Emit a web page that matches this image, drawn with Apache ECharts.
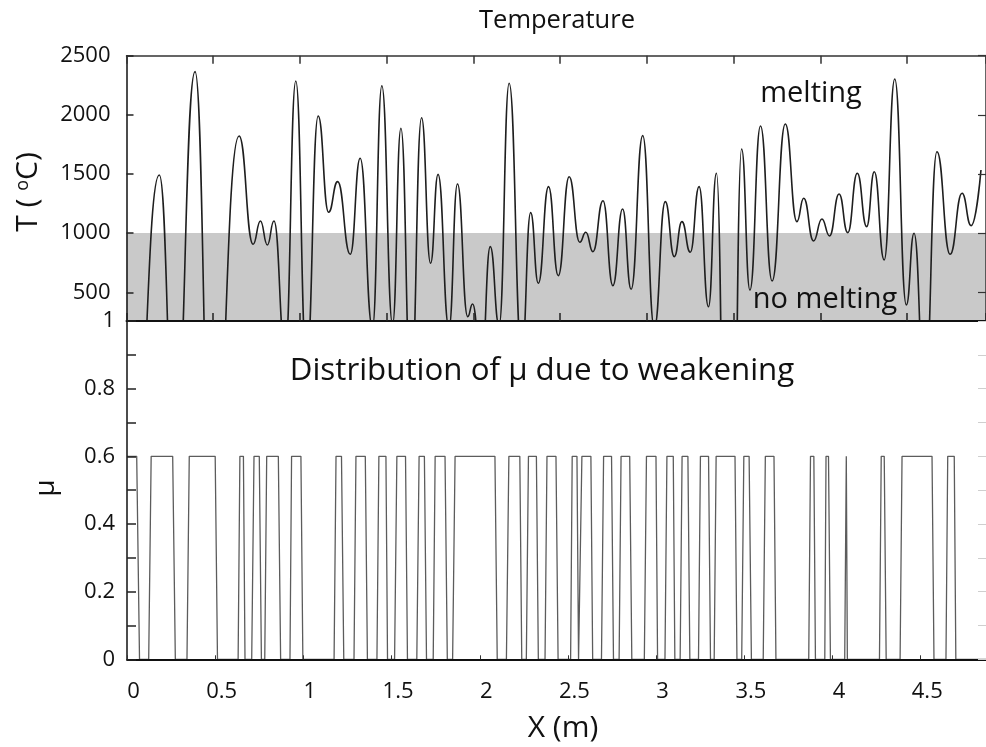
<!DOCTYPE html>
<html>
<head>
<meta charset="utf-8">
<script src="https://cdn.jsdelivr.net/npm/echarts@6/dist/echarts.min.js"></script>
<style>
html,body{margin:0;padding:0;background:#fff;}
#chart{width:986px;height:747px;}
</style>
</head>
<body>
<div id="chart"></div>
<script>
// Temperature curve (x in m, T in °C): peaks, troughs and estimated hidden minima (below the clipped floor)
const tempX = [0,0.045,0.189,0.280,0.395,0.493,0.649,0.730,0.772,0.812,0.850,0.915,0.976,1.038,1.105,1.165,1.217,1.290,1.347,1.418,1.472,1.534,1.582,1.640,1.701,1.753,1.796,1.859,1.908,1.967,1.995,2.046,2.097,2.148,2.206,2.279,2.330,2.374,2.433,2.489,2.552,2.613,2.648,2.689,2.747,2.804,2.860,2.909,2.976,3.043,3.106,3.158,3.202,3.250,3.301,3.355,3.401,3.475,3.546,3.594,3.655,3.722,3.798,3.865,3.904,3.961,4.009,4.053,4.108,4.158,4.213,4.267,4.311,4.368,4.429,4.496,4.540,4.602,4.672,4.748,4.817,4.869,4.926];
const tempY = [-1050,-1050,1492,-800,2365,-1400,1821,906,1102,900,1102,0,2286,-100,1990,1176,1435,821,1633,200,2246,230,1886,-350,1976,745,1497,200,1415,294,401,-150,886,220,2267,-30,1173,576,1393,640,1477,923,1007,843,1274,556,1204,525,1824,200,1266,801,1097,838,1393,378,1506,-4500,1711,519,1906,596,1923,1097,1295,934,1120,976,1331,1004,1506,1055,1519,773,2303,393,999,-380,1688,821,1337,1063,1534];

// Friction coefficient mu distribution
const muX = [0,0.055,0.071,0.123,0.137,0.259,0.274,0.340,0.353,0.500,0.513,0.630,0.640,0.660,0.669,0.707,0.720,0.750,0.762,0.781,0.792,0.858,0.871,0.924,0.933,0.986,0.997,1.174,1.185,1.216,1.229,1.287,1.298,1.351,1.363,1.417,1.428,1.468,1.477,1.517,1.530,1.579,1.590,1.643,1.656,1.686,1.698,1.736,1.747,1.803,1.816,1.846,1.860,2.086,2.099,2.151,2.165,2.227,2.238,2.264,2.276,2.321,2.332,2.370,2.381,2.432,2.444,2.515,2.524,2.551,2.560,2.568,2.579,2.630,2.640,2.690,2.702,2.747,2.758,2.790,2.801,2.850,2.862,2.933,2.945,2.999,3.008,3.050,3.061,3.097,3.106,3.136,3.147,3.180,3.191,3.240,3.251,3.297,3.308,3.329,3.340,3.447,3.458,3.485,3.497,3.527,3.540,3.607,3.619,3.668,3.679,3.865,3.875,3.894,3.903,3.956,3.963,3.977,3.988,4.069,4.078,4.084,4.266,4.276,4.293,4.304,4.383,4.394,4.564,4.575,4.643,4.653,4.690,4.699,4.870];
const muY = [0.6,0.6,0,0,0.6,0.6,0,0,0.6,0.6,0,0,0.6,0.6,0,0,0.6,0.6,0,0,0.6,0.6,0,0,0.6,0.6,0,0,0.6,0.6,0,0,0.6,0.6,0,0,0.6,0.6,0,0,0.6,0.6,0,0,0.6,0.6,0,0,0.6,0.6,0,0,0.6,0.6,0,0,0.6,0.6,0,0,0.6,0.6,0,0,0.6,0.6,0,0,0.6,0.6,0,0,0.6,0.6,0,0,0.6,0.6,0,0,0.6,0.6,0,0,0.6,0.6,0,0,0.6,0.6,0,0,0.6,0.6,0,0,0.6,0.6,0,0,0.6,0.6,0,0,0.6,0.6,0,0,0.6,0.6,0,0,0.6,0.6,0,0,0.6,0.6,0,0,0.6,0,0,0.6,0.6,0,0,0.6,0.6,0,0,0.6,0.6,0,0];

const tempTicks = [500,1000,1500,2000,2500];
const muLabels = [0,0.2,0.4,0.6,0.8,1];
const tempFloor = 257;
const meltThreshold = 1000;

const FONT = "'Open Sans', 'DejaVu Sans', sans-serif";
const chart = echarts.init(document.getElementById('chart'), null, {renderer:'canvas'});

const tempData = tempX.map((x,i)=>[x,tempY[i]]);
const muData = muX.map((x,i)=>[x,muY[i]]);
const plain = v => String(Math.round(v*100)/100);

chart.setOption({
  animation:false,
  backgroundColor:'#ffffff',
  grid:[
    {left:126.5, top:55.7, right:-4, bottom:426, containLabel:false},
    {left:127, top:321, right:-3, bottom:87.7, containLabel:false}
  ],
  xAxis:[
    {gridIndex:0, type:'value', position:'bottom', min:0, max:4.955, interval:0.5, z:10,
     axisLine:{show:true, onZero:false, lineStyle:{color:'#111', width:2}},
     axisTick:{show:true, inside:true, length:8, lineStyle:{color:'#222', width:1.5}},
     axisLabel:{show:false}, splitLine:{show:false}},
    {gridIndex:0, type:'value', position:'top', min:0, max:4.955, interval:0.5, z:10,
     axisLine:{show:true, onZero:false, lineStyle:{color:'#333', width:1.5}},
     axisTick:{show:true, inside:true, length:8, lineStyle:{color:'#333', width:1.5}},
     axisLabel:{show:false}, splitLine:{show:false}},
    {gridIndex:1, type:'value', position:'bottom', min:0, max:4.870, interval:0.5, z:10,
     axisLine:{show:true, onZero:false, lineStyle:{color:'#111', width:1.8}},
     axisTick:{show:true, inside:true, length:4, lineStyle:{color:'#333', width:1}},
     axisLabel:{show:true, fontSize:22, color:'#111', fontFamily:FONT, margin:21, padding:[0,0,0,13], showMaxLabel:false, formatter:plain},
     splitLine:{show:false}}
  ],
  yAxis:[
    {gridIndex:0, type:'value', position:'left', min:tempFloor, max:2500, z:10,
     axisLine:{show:true, onZero:false, lineStyle:{color:'#111', width:1.5}},
     axisTick:{show:true, inside:true, length:7, customValues:tempTicks, lineStyle:{color:'#222', width:1.5}},
     axisLabel:{show:true, customValues:tempTicks, fontSize:22, color:'#111', fontFamily:FONT, margin:16, formatter:plain},
     splitLine:{show:false}},
    {gridIndex:0, type:'value', position:'right', min:tempFloor, max:2500, z:10,
     axisLine:{show:true, onZero:false, lineStyle:{color:'#333', width:1.5}},
     axisTick:{show:true, inside:true, length:8, customValues:tempTicks, lineStyle:{color:'#333', width:1.2}},
     axisLabel:{show:false}, splitLine:{show:false}},
    {gridIndex:1, type:'value', position:'left', min:0, max:1, interval:0.1, z:10,
     axisLine:{show:true, onZero:false, lineStyle:{color:'#111', width:1.5}},
     axisTick:{show:true, inside:true, length:9, lineStyle:{color:'#222', width:1.5}},
     axisLabel:{show:true, customValues:muLabels, fontSize:22, color:'#111', fontFamily:FONT, margin:12, formatter:plain},
     splitLine:{show:false}},
    {gridIndex:1, type:'value', position:'right', min:0, max:1, interval:0.1, z:10,
     axisLine:{show:false, onZero:false},
     axisTick:{show:true, inside:true, length:8, lineStyle:{color:'#cfcfcf', width:1}},
     axisLabel:{show:false}, splitLine:{show:false}}
  ],
  series:[
    {type:'line', xAxisIndex:0, yAxisIndex:0, data:tempData, smooth:0.5, smoothMonotone:'x', showSymbol:false, clip:true,
     lineStyle:{color:'#1e1e1e', width:1.6}, z:3,
     markArea:{silent:true, itemStyle:{color:'#c9c9c9'}, data:[[{yAxis:tempFloor},{yAxis:meltThreshold}]]}},
    {type:'line', xAxisIndex:2, yAxisIndex:2, data:muData, showSymbol:false, clip:true,
     lineStyle:{color:'#5c5c5c', width:1.3}, z:3}
  ],
  graphic:[
    {type:'text', x:557, y:21, z:50, style:{text:'Temperature', font:'25.5px '+FONT, fill:'#111', align:'center', verticalAlign:'middle'}},
    {type:'text', x:28.5, y:192, rotation:Math.PI/2, z:50, style:{text:'T ( {s|o}C)', font:'30px '+FONT, fill:'#111', align:'center', verticalAlign:'middle',
      rich:{s:{fontSize:18, fontFamily:FONT, verticalAlign:'top', fill:'#111'}}}},
    {type:'text', x:811, y:94, z:50, style:{text:'melting', font:'29px '+FONT, fill:'#111', align:'center', verticalAlign:'middle'}},
    {type:'text', x:825, y:300, z:50, style:{text:'no melting', font:'29px '+FONT, fill:'#111', align:'center', verticalAlign:'middle'}},
    {type:'text', x:542, y:371, z:50, style:{text:'Distribution of μ due to weakening', font:'31.3px '+FONT, fill:'#111', align:'center', verticalAlign:'middle'}},
    {type:'text', x:46, y:488, rotation:Math.PI/2, z:50, style:{text:'μ', font:'28px '+FONT, fill:'#111', align:'center', verticalAlign:'middle'}},
    {type:'text', x:563, y:728, z:50, style:{text:'X (m)', font:'30px '+FONT, fill:'#111', align:'center', verticalAlign:'middle'}}
  ]
});
</script>
</body>
</html>
